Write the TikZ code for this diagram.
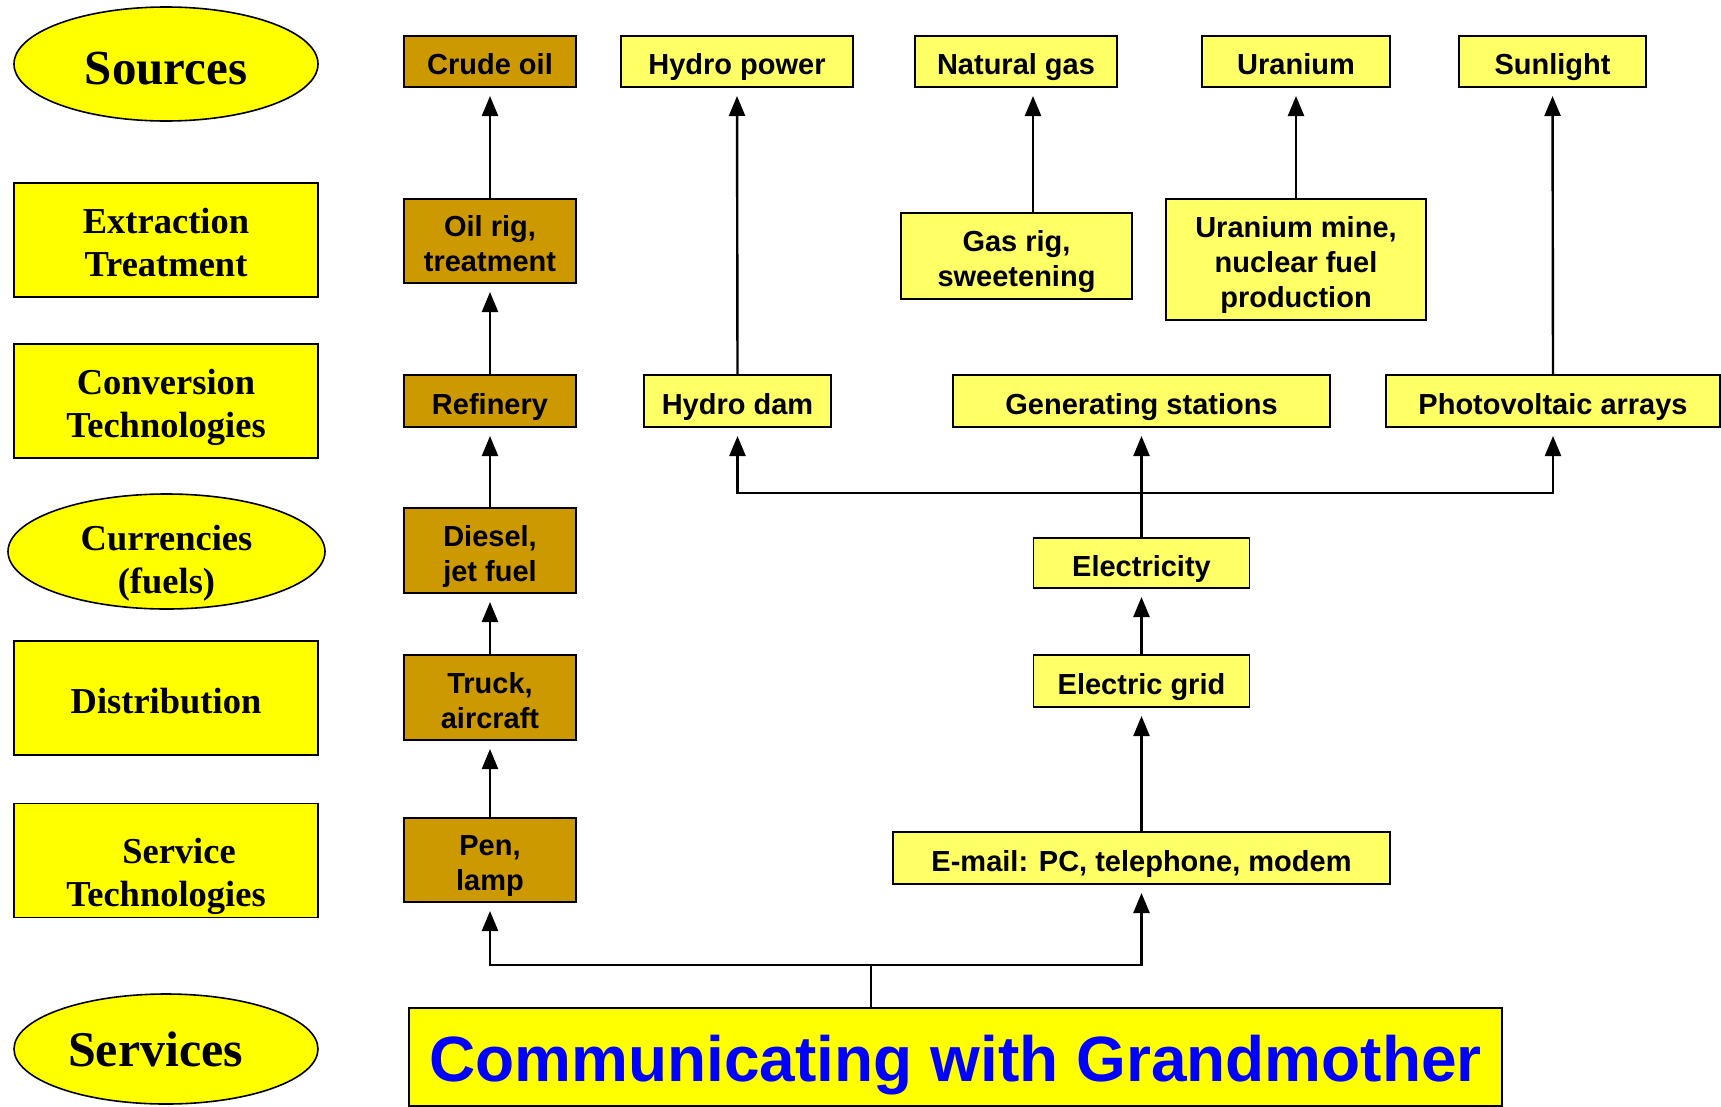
\documentclass[tikz,border=0pt]{standalone}
\usepackage{fontspec}
\setmainfont{Liberation Sans}
\newfontfamily\tnr{Liberation Serif}
\usetikzlibrary{shapes.geometric,arrows.meta}
\definecolor{ylw}{HTML}{FFFF00}
\definecolor{lylw}{HTML}{FFFF66}
\definecolor{brn}{HTML}{CC9900}
\definecolor{comblue}{HTML}{0000FF}
\tikzset{
  base/.style={draw=black, line width=1.6pt, inner sep=0pt, outer sep=0pt, align=center},
  lfont/.style={font=\tnr\bfseries\fontsize{36.5}{43}\selectfont},
  lbox/.style={base, lfont, rectangle, fill=ylw, minimum width=304pt, minimum height=114pt,
     text height=38.8pt, text depth=8pt},
  ltwo/.style={text height=80.2pt, text depth=8pt},
  lell/.style={base, ellipse, fill=ylw, minimum width=304pt, minimum height=114pt},
  rbox/.style={base, rectangle, fill=lylw, minimum height=51pt,
     font=\bfseries\fontsize{29}{35}\selectfont, text height=33.3pt, text depth=6.5pt},
  rtwo/.style={text height=68.3pt},
  rthree/.style={text height=103.3pt},
  bbox/.style={rbox, fill=brn, minimum width=172pt},
  arr/.style={line width=2.4pt, -{Triangle[width=16pt,length=20pt]}, shorten >=9pt},
  ln/.style={line width=2.4pt},
}
\begin{document}
\begin{tikzpicture}[x=1pt,y=-1pt]
\useasboundingbox (0,0) rectangle (1721,1106);
% left column
\node[lell, font=\tnr\bfseries\fontsize{49}{55}\selectfont,
  text height=50.4pt, text depth=10pt] (sources) at (166,64) {Sources};
\node[lbox, ltwo] (extr) at (166,240) {Extraction\\Treatment};
\node[lbox, ltwo] (conv) at (166,401) {Conversion\\Technologies};
\node[lell, lfont, minimum width=317pt, minimum height=115pt, inner ysep=-3pt,
  text height=84.2pt, text depth=0pt] (curr) at (166.5,551.5) {Currencies\\(fuels)};
\node[lbox] (distr) at (166,698) {Distribution};
\node[lbox, text height=99.2pt] (servt) at (166,860.5) {\hspace*{26pt}Service\\Technologies};
\node[lell, minimum height=110pt, font=\tnr\bfseries\fontsize{50}{56}\selectfont] (services) at (166,1049) {Services\hspace*{21pt}};
% oil column
\node[bbox] (crude) at (490,61.5) {Crude oil};
\node[bbox, rtwo, minimum height=84pt] (oilrig) at (490,241) {Oil rig,\\treatment};
\node[bbox, minimum height=52pt] (refinery) at (490,401) {Refinery};
\node[bbox, rtwo, minimum height=85pt] (diesel) at (490,550.5) {Diesel,\\jet fuel};
\node[bbox, rtwo, minimum height=85pt] (truck) at (490,697.5) {Truck,\\aircraft};
\node[bbox, rtwo, minimum height=84pt] (pen) at (490,860) {Pen,\\lamp};
% sources row
\node[rbox, minimum width=232pt] (hpower) at (737,61.5) {Hydro power};
\node[rbox, minimum width=202pt] (natgas) at (1016,61.5) {Natural gas};
\node[rbox, minimum width=188pt] (uran) at (1296,61.5) {Uranium};
\node[rbox, minimum width=187pt] (sun) at (1552.5,61.5) {Sunlight};
% extraction row
\node[rbox, rtwo, minimum width=231pt, minimum height=86pt] (gasrig) at (1016.5,256) {Gas rig,\\sweetening};
\node[rbox, rthree, minimum width=260pt, minimum height=121pt] (umine) at (1296,259.5) {Uranium mine,\\nuclear fuel\\production};
% conversion row
\node[rbox, minimum width=187pt, minimum height=52pt] (dam) at (737.5,401) {Hydro dam};
\node[rbox, minimum width=377pt, minimum height=52pt] (gen) at (1141.5,401) {Generating stations};
\node[rbox, minimum width=334pt, minimum height=52pt] (pv) at (1553,401) {Photovoltaic arrays};
% electricity column
\node[rbox, minimum width=216pt, minimum height=50pt] (elec) at (1141.5,563) {Electricity};
\node[rbox, minimum width=216pt, minimum height=52pt] (grid) at (1141.5,681) {Electric grid};
\node[rbox, minimum width=497pt, minimum height=52pt] (email) at (1141.5,858) {E-mail: PC, telephone, modem};
% services
\node[base, fill=ylw, minimum width=1093pt, minimum height=98pt, text=comblue,
  text height=48pt, text depth=0pt,
  font=\bfseries\fontsize{64}{70}\selectfont] (comm) at (955.5,1057) {Communicating with Grandmother};
% connectors oil
\draw[arr] (oilrig.north) -- (crude.south);
\draw[arr] (refinery.north) -- (oilrig.south);
\draw[arr] (diesel.north) -- (refinery.south);
\draw[arr] (truck.north) -- (diesel.south);
\draw[arr] (pen.north) -- (truck.south);
% other sources
\draw[arr] (dam.north) -- (hpower.south);
\draw[arr] ([xshift=16.5pt]gasrig.north) -- ([xshift=16.5pt]gasrig.north |- natgas.south);
\draw[arr] (umine.north) -- (uran.south);
\draw[arr] (pv.north) -- (sun.south);
% electricity tree
\coordinate (hj) at (1141.5,493);
\draw[ln] (elec.north) -- (hj);
\draw[arr] (hj) -- (gen.south);
\draw[arr] (hj) -| (dam.south);
\draw[arr] (hj) -| (pv.south);
\draw[arr] (grid.north) -- (elec.south);
\draw[arr] (email.north) -- (grid.south);
% services tree
\coordinate (sj) at (871,965);
\draw[ln] (sj |- comm.north) -- (sj);
\draw[arr] (sj) -| (pen.south);
\draw[arr] (sj) -| (email.south);
\end{tikzpicture}
\end{document}
